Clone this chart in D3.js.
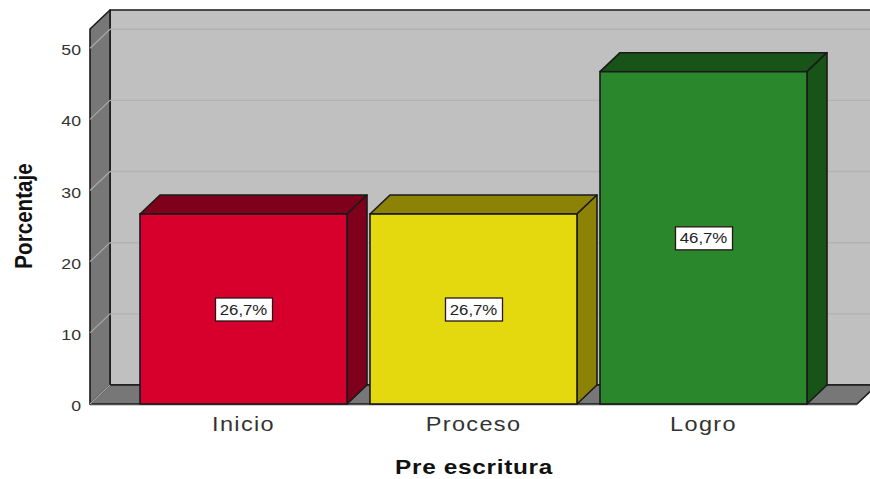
<!DOCTYPE html>
<html><head><meta charset="utf-8">
<script src="https://cdn.jsdelivr.net/npm/d3@7/dist/d3.min.js"></script>
<style>html,body{margin:0;padding:0;background:#fff}svg{display:block}text{font-family:"Liberation Sans",Arial,sans-serif}</style>
</head><body><svg id="c" width="870" height="479"></svg>
<script>
const categories=["Inicio","Proceso","Logro"];
const values=[26.7,26.7,46.7];
const labels=["26,7%","26,7%","46,7%"];
const frontColors=["#d7002d","#e3d90e","#2a872b"];
const sideColors=["#7f001b","#8c8206","#185318"];
const yTicks=[0,10,20,30,40,50];
const yMax=52.7;
const dx=20,dy=-19;
const svg=d3.select("#c");
const x=d3.scaleBand().domain(categories).range([90,857]).paddingInner(0.1).paddingOuter(0.2174);
const y=d3.scaleLinear().domain([0,yMax]).range([404,29]);
const line="#1a1a1a";
const poly=(pts,fill,stroke=line,w=1.6)=>svg.append("polygon").attr("points",pts.map(p=>p.join(",")).join(" ")).attr("fill",fill).attr("stroke",stroke).attr("stroke-width",w).attr("stroke-linejoin","round");
const L=90,R=857,B=y(0),T=y(yMax);
poly([[L+dx,T+dy],[R+dx,T+dy],[R+dx,B+dy],[L+dx,B+dy]],"#c0c0c0");
poly([[L,T],[L+dx,T+dy],[L+dx,B+dy],[L,B]],"#777777");
poly([[L,B],[L+dx,B+dy],[R+dx,B+dy],[R,B]],"#777777");
yTicks.filter(d=>d>0).forEach(d=>{
  svg.append("line").attr("x1",L+dx).attr("x2",R+dx).attr("y1",y(d)+dy).attr("y2",y(d)+dy).attr("stroke","#b2b2b2").attr("stroke-width",1.4);
  svg.append("line").attr("x1",L).attr("x2",L+dx).attr("y1",y(d)).attr("y2",y(d)+dy).attr("stroke","#a9a9a9").attr("stroke-width",1.2);
});
svg.append("line").attr("x1",L).attr("x2",L+dx).attr("y1",B).attr("y2",B+dy).attr("stroke","#a9a9a9").attr("stroke-width",1.2);
svg.append("line").attr("x1",L).attr("x2",R).attr("y1",B+1.5).attr("y2",B+1.5).attr("stroke","#cfcfcf").attr("stroke-width",1);
categories.forEach((c,i)=>{
  const x0=x(c),x1=x0+x.bandwidth(),yt=y(values[i]);
  poly([[x0,yt],[x0+dx,yt+dy],[x1+dx,yt+dy],[x1,yt]],sideColors[i]);
  poly([[x1,yt],[x1+dx,yt+dy],[x1+dx,B+dy],[x1,B]],sideColors[i]);
  svg.append("rect").attr("x",x0).attr("y",yt).attr("width",x.bandwidth()).attr("height",B-yt).attr("fill",frontColors[i]).attr("stroke",line).attr("stroke-width",1.6);
  const cx=x0+x.bandwidth()/2,cy=(yt+B)/2;
  svg.append("rect").attr("x",cx-28).attr("y",cy-11).attr("width",57).attr("height",23).attr("fill","#fff").attr("stroke","#2a1414").attr("stroke-width",1.3);
  svg.append("text").attr("transform",`translate(${cx},${cy+5.5}) scale(1.12,1)`).attr("text-anchor","middle").attr("font-size",15).attr("fill","#222").text(labels[i]);
  svg.append("text").attr("transform",`translate(${cx},431) scale(1.12,1)`).attr("text-anchor","middle").attr("font-size",21).attr("letter-spacing",1.2).attr("fill","#333").text(c);
});
yTicks.forEach(d=>svg.append("text").attr("transform",`translate(81,${y(d)+7}) scale(1.18,1)`).attr("text-anchor","end").attr("font-size",15).attr("fill","#333").text(d));
svg.append("text").attr("transform","translate(32,216) rotate(-90) scale(1.03,1.15)").attr("text-anchor","middle").attr("font-size",20).attr("font-weight","bold").attr("fill","#111").text("Porcentaje");
svg.append("text").attr("transform","translate(474,474) scale(1.16,1)").attr("text-anchor","middle").attr("font-size",21).attr("font-weight","bold").attr("letter-spacing",0.6).attr("fill","#111").text("Pre escritura");
</script></body></html>
